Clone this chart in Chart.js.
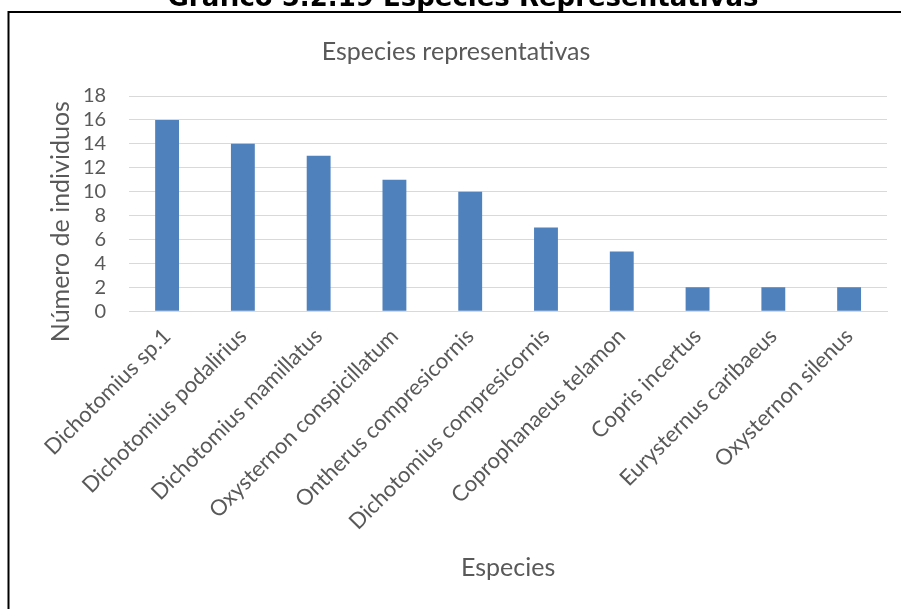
<!DOCTYPE html>
<html lang="es">
<head>
<meta charset="utf-8">
<title>Especies representativas</title>
<script src="https://cdn.jsdelivr.net/npm/chart.js@4.4.1/dist/chart.umd.min.js"></script>
<style>
  html, body { margin: 0; padding: 0; background: #fff; overflow: hidden; }
  #wrap { position: relative; width: 901px; height: 609px; }
  canvas { display: block; }
</style>
</head>
<body>
<div id="wrap"><canvas id="chart" width="901" height="609"></canvas></div>
<script>
// Especies y número de individuos registrados
const especies = [
  'Dichotomius sp.1',
  'Dichotomius podalirius',
  'Dichotomius mamillatus',
  'Oxysternon conspicillatum',
  'Ontherus compresicornis',
  'Dichotomius compresicornis',
  'Coprophanaeus telamon',
  'Copris incertus',
  'Eurysternus caribaeus',
  'Oxysternon silenus'
];
const individuos = [16, 14, 13, 11, 10, 7, 5, 2, 2, 2];
const ticksY = [0, 2, 4, 6, 8, 10, 12, 14, 16, 18];

const tituloFigura = 'Gráfico 5.2.19 Especies Representativas';
const tituloEjeY = 'Número de individuos';
const FONT = 'Lato, "Open Sans", "Noto Sans", sans-serif';
const GRIS = '#595959';
const PAD_TICKS_Y = 23;
// espacio extra a la izquierda de las etiquetas del eje Y para su título
// (Chart.js ya reserva el relleno de las etiquetas dos veces)
const ESPACIO_TITULO_Y = 58 - PAD_TICKS_Y;

// Marco del gráfico, rótulo de la figura (recortado arriba) y título del eje Y
const marco = {
  id: 'marco',
  afterDraw(chart) {
    const ctx = chart.ctx;
    const area = chart.chartArea;
    ctx.save();
    ctx.strokeStyle = '#000';
    ctx.lineWidth = 2;
    ctx.beginPath();
    ctx.moveTo(8.5, 609);
    ctx.lineTo(8.5, 12);
    ctx.lineTo(901, 12);
    ctx.stroke();

    ctx.fillStyle = '#000';
    ctx.font = 'bold 26px "DejaVu Sans", sans-serif';
    ctx.textAlign = 'center';
    ctx.textBaseline = 'alphabetic';
    ctx.fillText(tituloFigura, 463, 6);

    // título vertical del eje Y, algo por debajo del centro del área
    ctx.fillStyle = GRIS;
    ctx.font = '25px ' + FONT;
    ctx.textBaseline = 'middle';
    ctx.translate(61, (area.top + area.bottom) / 2 + 18);
    ctx.rotate(-Math.PI / 2);
    ctx.fillText(tituloEjeY, 0, 0);
    ctx.restore();
  }
};

new Chart(document.getElementById('chart'), {
  type: 'bar',
  data: {
    labels: especies,
    datasets: [{
      label: tituloEjeY,
      data: individuos,
      backgroundColor: '#4F81BD',
      borderWidth: 0,
      categoryPercentage: 1,
      barPercentage: 0.315
    }]
  },
  options: {
    responsive: false,
    animation: false,
    layout: { padding: { left: 25, right: 14, top: 22, bottom: 26 } },
    plugins: {
      legend: { display: false },
      tooltip: { enabled: false },
      title: {
        display: true,
        text: 'Especies representativas',
        color: GRIS,
        font: { family: FONT, size: 25, weight: 'normal' },
        padding: { top: 15, bottom: 29 }
      }
    },
    scales: {
      x: {
        grid: { display: false, drawTicks: false },
        border: { display: true, color: '#D9D9D9', width: 1 },
        ticks: {
          color: GRIS,
          font: { family: FONT, size: 22 },
          minRotation: 45,
          maxRotation: 45,
          autoSkip: false,
          padding: 12
        },
        title: {
          display: true,
          text: 'Especies',
          color: GRIS,
          font: { family: FONT, size: 25 },
          padding: { top: 6, bottom: 0 }
        }
      },
      y: {
        min: 0,
        max: 18,
        afterBuildTicks(axis) { axis.ticks = ticksY.map(v => ({ value: v })); },
        afterFit(scale) { scale.width += ESPACIO_TITULO_Y; },
        grid: { color: '#D9D9D9', lineWidth: 1, drawTicks: false },
        border: { display: false },
        ticks: {
          color: GRIS,
          font: { family: FONT, size: 20 },
          autoSkip: false,
          padding: PAD_TICKS_Y
        },
        title: { display: false }
      }
    }
  },
  plugins: [marco]
});
</script>
</body>
</html>
